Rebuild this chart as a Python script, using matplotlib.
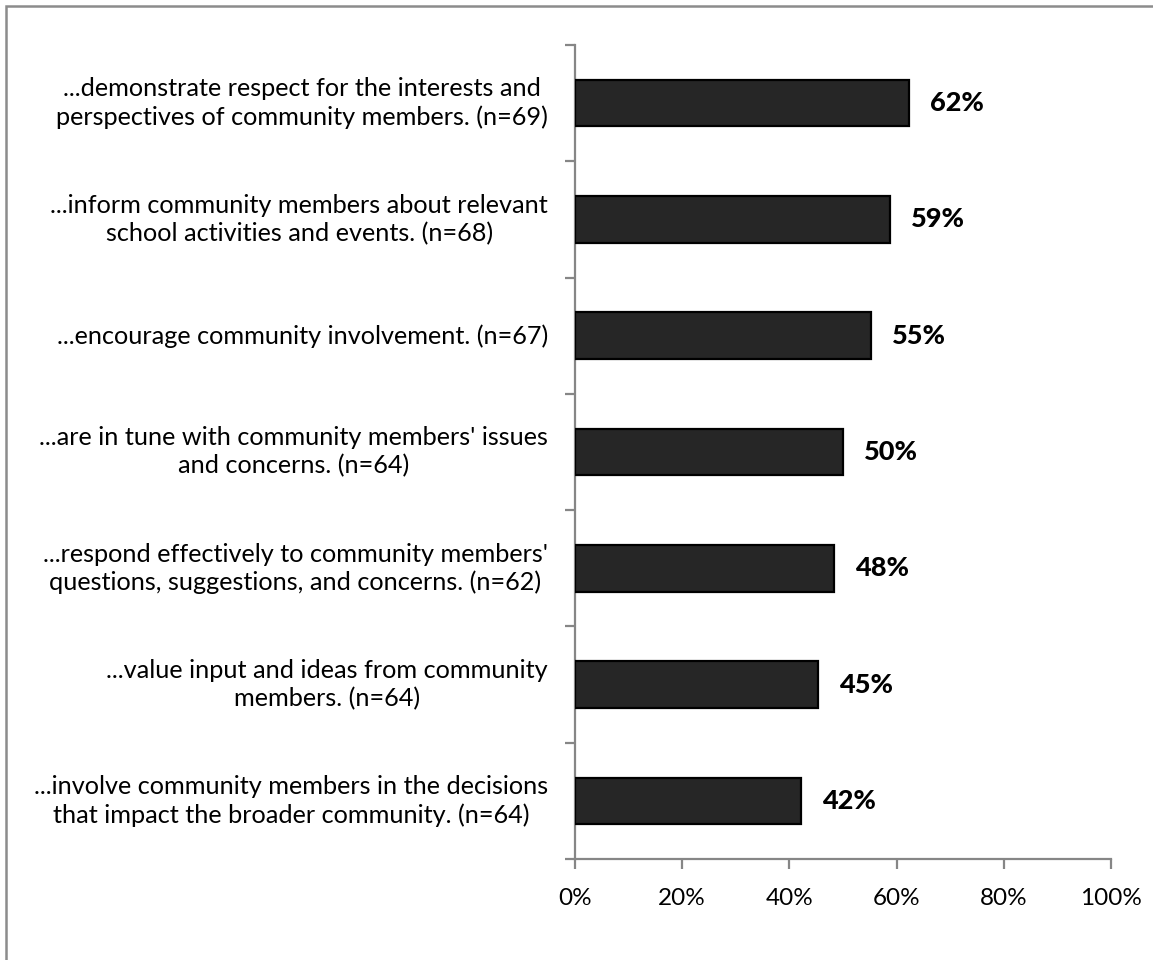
import matplotlib
matplotlib.use("Agg")
import matplotlib.pyplot as plt
from matplotlib.patches import Rectangle
from matplotlib.ticker import FixedLocator, NullFormatter, FuncFormatter

categories = [
    "...demonstrate respect for the interests and\nperspectives of community members. (n=69)",
    "...inform community members about relevant\nschool activities and events. (n=68)",
    "...encourage community involvement. (n=67)",
    "...are in tune with community members' issues\nand concerns. (n=64)",
    "...respond effectively to community members'\nquestions, suggestions, and concerns. (n=62)",
    "...value input and ideas from community\nmembers. (n=64)",
    "...involve community members in the decisions\nthat impact the broader community. (n=64)",
]
values = [62.3, 58.8, 55.2, 50.0, 48.4, 45.3, 42.2]
value_labels = ["62%", "59%", "55%", "50%", "48%", "45%", "42%"]
x_ticks = [0, 20, 40, 60, 80, 100]

plt.rcParams['font.family'] = ['Lato', 'DejaVu Sans']

W, H = 1153, 960
fig = plt.figure(figsize=(W / 100, H / 100), dpi=100)
ax = fig.add_axes([575 / W, 1 - 859 / H, (1111 - 575) / W, (859 - 45) / H])

n = len(categories)
ypos = [n - 1 - i for i in range(n)]
ax.barh(ypos, values, height=0.4, color="#262626", edgecolor="black", linewidth=1.6, zorder=3)

ax.set_xlim(0, 100)
ax.set_ylim(-0.5, n - 0.5)

gray = "#868686"
for s in ["top", "right"]:
    ax.spines[s].set_visible(False)
for s in ["left", "bottom"]:
    ax.spines[s].set_color(gray)
    ax.spines[s].set_linewidth(1.6)

ax.xaxis.set_major_locator(FixedLocator(x_ticks))
ax.xaxis.set_major_formatter(FuncFormatter(lambda v, p: f"{int(v)}%"))
ax.tick_params(axis="x", direction="out", length=7, width=1.6, color=gray,
               labelsize=17.5, pad=14, labelcolor="black")

ax.yaxis.set_major_locator(FixedLocator([i - 0.5 for i in range(n + 1)]))
ax.yaxis.set_major_formatter(NullFormatter())
ax.tick_params(axis="y", direction="out", length=7, width=1.6, color=gray)

for y, lab in zip(ypos, categories):
    ax.text(-27 / 536 * 100, y, lab, ha="right", va="center", multialignment="center",
            fontsize=18.2, color="black", linespacing=1.25, transform=ax.transData, clip_on=False)

for y, v, vl in zip(ypos, values, value_labels):
    ax.annotate(vl, (v, y), xytext=(21, 0), textcoords="offset pixels",
                ha="left", va="center", fontsize=19.5, fontweight="black", color="black")

border = Rectangle((6 / W, -0.05), 1.1, 1 - 6 / H + 0.05, transform=fig.transFigure,
                   fill=False, edgecolor="#8c8c8c", linewidth=1.8, clip_on=False)
fig.patches.append(border)

fig.savefig("out.png", dpi=100)
